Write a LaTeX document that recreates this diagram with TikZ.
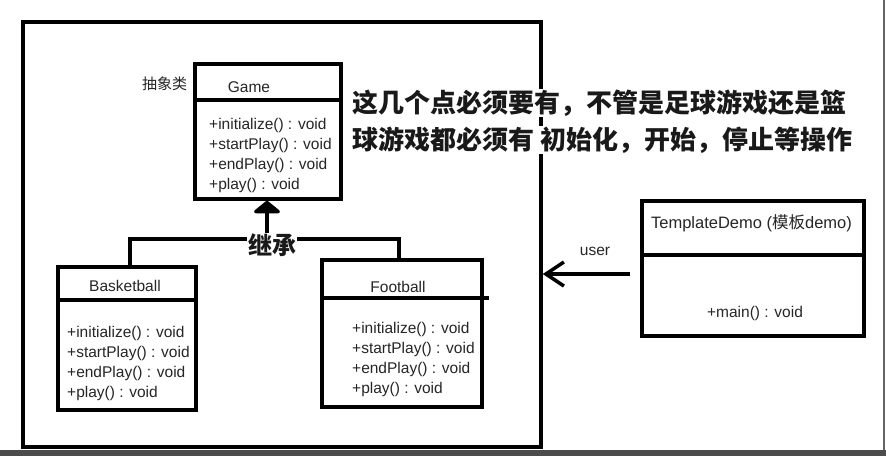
\documentclass[tikz,border=0pt]{standalone}
\usepackage{fontspec}
\setmainfont{Liberation Sans}
\newfontfamily\cjk{Noto Sans CJK SC}
\usetikzlibrary{arrows.meta}

\begin{document}
\begin{tikzpicture}[x=1pt,y=-1pt,
    every node/.style={text=black!85, font=\fontsize{15.5}{18}\selectfont},
    cls/.style={draw=black, line width=3.5pt, inner sep=0pt},
    bar/.style={line width=4pt},
    meth/.style={anchor=west, inner sep=0pt},
    note/.style={anchor=west, inner sep=0.5pt, fill=white, text=black!90,
      font=\cjk\bfseries\fontsize{26}{30}\selectfont}]
    \useasboundingbox (0,0) rectangle (886,456);
    \fill[white] (0,0) rectangle (886,456);
    \fill[black!70] (0,450) rectangle (886,456);
    \draw[black!60, line width=1.5pt] (884,0) -- (884,450);
    % outer frame
    \node[cls, minimum width=518pt, minimum height=425pt] (frame) at (282,234.5) {};
    % abstract class
    \node[cls, minimum width=146pt, minimum height=135pt] (game) at (268,131.5) {};
    \node (gameT) at (249,87) {Game};
    \node[font=\cjk\fontsize{15}{18}\selectfont] (abs) at (164.5,84) {抽象类};
    \draw[bar] ([yshift=-38pt]game.north west) -- ([yshift=-38pt]game.north east);
    \foreach \m [count=\i] in {initialize,startPlay,endPlay,play}
      \node[meth] (gm\i) at (209,105+20*\i) {+\m() : void};
    % subclasses
    \node[cls, minimum width=138pt, minimum height=143pt] (basket) at (127,338.5) {};
    \node (basketT) at (125,286) {Basketball};
    \draw[bar] ([yshift=-35pt]basket.north west) -- ([yshift=-35pt]basket.north east);
    \foreach \m [count=\i] in {initialize,startPlay,endPlay,play}
      \node[meth] (bm\i) at (67,313+20*\i) {+\m() : void};
    \node[cls, minimum width=160pt, minimum height=147pt] (foot) at (402,333.5) {};
    \node (footT) at (398,287) {Football};
    \draw[bar] ([yshift=-40pt]foot.north west) -- ([xshift=5pt,yshift=-40pt]foot.north east);
    \foreach \m [count=\i] in {initialize,startPlay,endPlay,play}
      \node[meth] (fm\i) at (352,309+20*\i) {+\m() : void};
    % inheritance
    \coordinate (joint) at (267,239);
    \draw[bar, -{Triangle[width=31pt,length=13pt,round]}] (joint) -- (joint |- game.south);
    \draw[bar] ([xshift=3pt]basket.north) |- (joint) -| ([xshift=-3pt]foot.north);
    \node[fill=white, inner sep=1pt, text=black!90,
      font=\cjk\bfseries\fontsize{24}{28}\selectfont] (inh) at (272,245) {继承};
    % client
    \node[cls, minimum width=222pt, minimum height=135pt] (demo) at (753,268.5) {};
    \node[font=\fontsize{16.5}{19}\selectfont] (demoT) at (751.5,223) {TemplateDemo ({\cjk 模板}demo)};
    \draw[bar] ([yshift=-56pt]demo.north west) -- ([yshift=-56pt]demo.north east);
    \node (main) at (755,313) {+main() : void};
    \coordinate (src) at ([xshift=-10pt,yshift=-5.5pt]demo.west);
    \draw[line width=3.5pt, -{Straight Barb[length=18pt,width=24pt]}] (src) -- (src -| frame.east);
    \node (user) at (595,251) {user};
    % remark
    \node[note] (note1) at (352,103) {这几个点必须要有，不管是足球游戏还是篮};
    \node[note] (note2) at (352,140) {球游戏都必须有 初始化，开始，停止等操作};
\end{tikzpicture}
\end{document}
